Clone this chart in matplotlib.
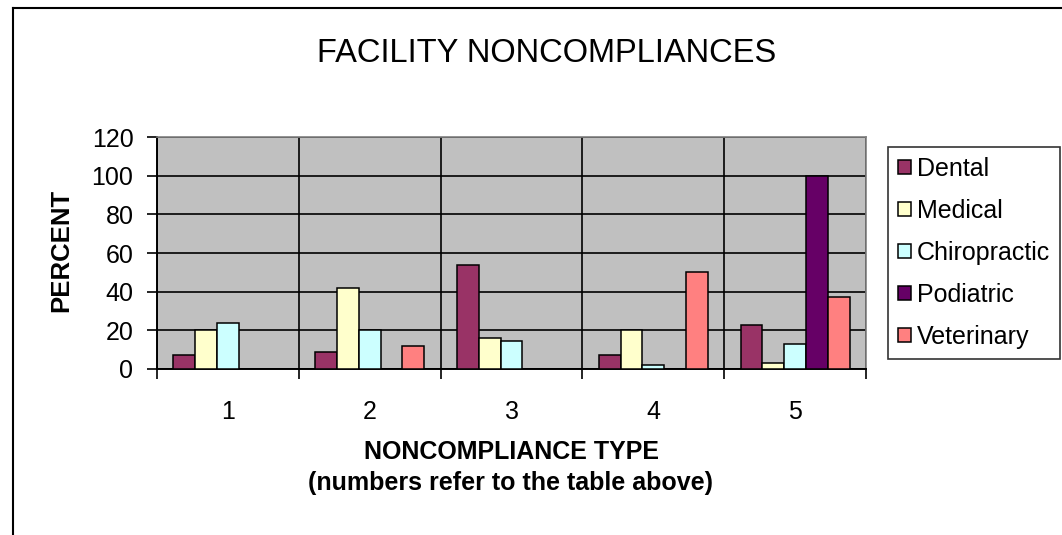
import numpy as np
import matplotlib
matplotlib.use("Agg")
import matplotlib.pyplot as plt
from matplotlib.lines import Line2D

# Data
categories = ["1", "2", "3", "4", "5"]
series_names = ["Dental", "Medical", "Chiropractic", "Podiatric", "Veterinary"]
dental = [7, 9, 54, 7, 23]
medical = [20, 42, 16, 20, 3]
chiropractic = [24, 20, 14.5, 2, 13]
podiatric = [0, 0, 0, 0, 100]
veterinary = [0, 12, 0, 50, 37]
y_ticks = [0, 20, 40, 60, 80, 100, 120]

colors = ["#993366", "#FFFFCC", "#CCFFFF", "#660066", "#FF8080"]

plt.rcParams['font.family'] = ['Liberation Sans', 'DejaVu Sans']

fig = plt.figure(figsize=(10.62, 5.35), dpi=100)
ax = fig.add_axes([157 / 1062, 1 - 369 / 535, (866 - 157) / 1062, (369 - 137) / 535])
ax.set_facecolor("#C0C0C0")

series = [dental, medical, chiropractic, podiatric, veterinary]
x = np.arange(1, len(categories) + 1)
w = 1 / 6.5
for i, (vals, name, col) in enumerate(zip(series, series_names, colors)):
    vals = np.array(vals, dtype=float)
    mask = vals > 0
    ax.bar(x[mask] + (i - 2) * w, vals[mask], width=w, color=col,
           edgecolor="black", linewidth=1.1, label=name, zorder=3)

ax.set_xlim(0.5, len(categories) + 0.5)
ax.set_ylim(0, 120)
ax.set_yticks(y_ticks)
ax.set_xticks(x)
ax.set_xticklabels(categories)
ax.set_xticks(np.arange(0.5, len(categories) + 1), minor=True)

ax.yaxis.grid(True, color="black", linewidth=1.2, zorder=1)
ax.xaxis.grid(True, which="minor", color="black", linewidth=1.2, zorder=1)
ax.xaxis.grid(False, which="major")
ax.set_axisbelow(True)

ax.tick_params(axis="y", direction="out", length=7, width=1.2, pad=10, labelsize=18)
ax.tick_params(axis="x", which="major", length=0, pad=22, labelsize=18)
ax.tick_params(axis="x", which="minor", direction="out", length=7, width=1.2)

for side in ["top", "right"]:
    ax.spines[side].set_color("#808080")
    ax.spines[side].set_linewidth(1.2)
for side in ["left", "bottom"]:
    ax.spines[side].set_color("black")
    ax.spines[side].set_linewidth(1.4)

fig.text(547 / 1062, 1 - 54 / 535, "FACILITY NONCOMPLIANCES", ha="center", va="center", fontsize=23.5)
fig.text(61 / 1062, 1 - 250 / 535, "PERCENT", rotation=90, ha="center", va="center",
         fontsize=18.5, fontweight="bold")
fig.text(511 / 1062, 1 - 452 / 535, "NONCOMPLIANCE TYPE", ha="center", va="center",
         fontsize=18, fontweight="bold")
fig.text(511 / 1062, 1 - 483 / 535, "(numbers refer to the table above)", ha="center", va="center",
         fontsize=18, fontweight="bold")

leg = fig.legend(loc="upper left", bbox_to_anchor=(888 / 1062, 1 - 147 / 535),
                 fontsize=18, frameon=True, fancybox=False, edgecolor="black",
                 handlelength=0.5, handleheight=0.5, handletextpad=0.25,
                 labelspacing=0.72, borderpad=0.4, borderaxespad=0)
leg.get_frame().set_linewidth(1.2)

# outer chart border (left and top edges visible)
fig.add_artist(Line2D([13 / 1062, 13 / 1062], [0, 1 - 8 / 535], color="black", linewidth=1.5))
fig.add_artist(Line2D([13 / 1062, 1], [1 - 8 / 535, 1 - 8 / 535], color="black", linewidth=1.5))

fig.savefig("out.png", dpi=100)
